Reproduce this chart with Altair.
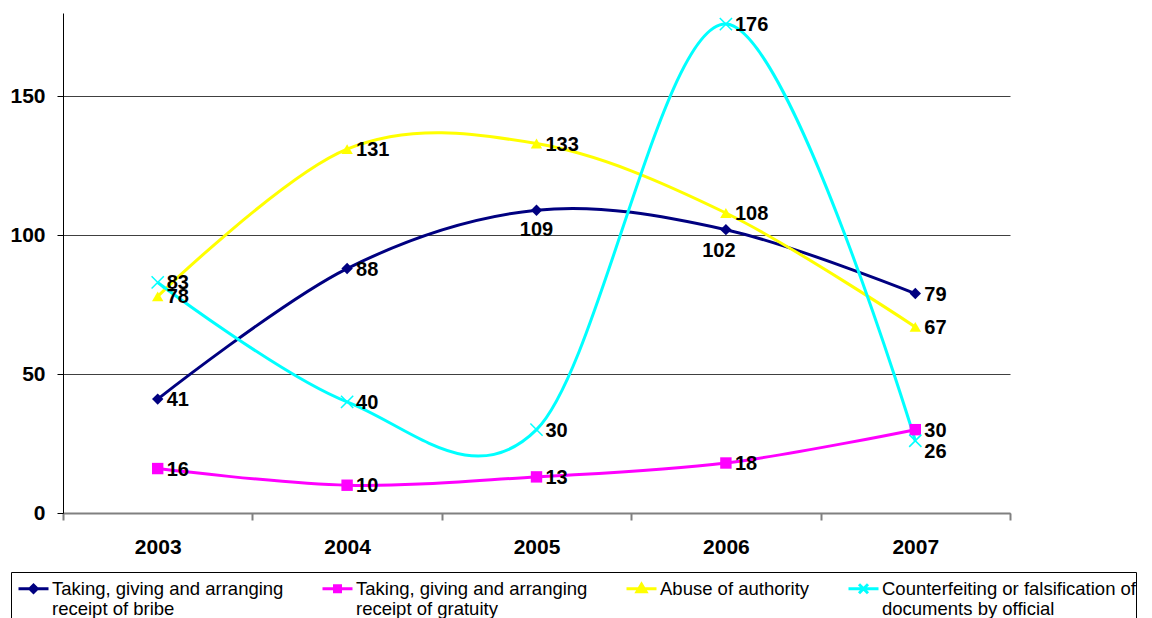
import json
import altair as alt
import pandas as pd

years = ["2003", "2004", "2005", "2006", "2007"]
series = [
    "Taking, giving and arranging receipt of bribe",
    "Taking, giving and arranging receipt of gratuity",
    "Abuse of authority",
    "Counterfeiting or falsification of documents by official",
]
legend_lines = [
    ["Taking, giving and arranging", "receipt of bribe"],
    ["Taking, giving and arranging", "receipt of gratuity"],
    ["Abuse of authority", ""],
    ["Counterfeiting or falsification of", "documents by official"],
]
bribe = [41, 88, 109, 102, 79]
gratuity = [16, 10, 13, 18, 30]
abuse = [78, 131, 133, 108, 67]
counterfeit = [83, 40, 30, 176, 26]
colors = ["#000080", "#FF00FF", "#FFFF00", "#00FFFF"]

rows = []
for name, vals in zip(series, [bribe, gratuity, abuse, counterfeit]):
    for yr, v in zip(years, vals):
        rows.append({"year": yr, "series": name, "value": v})
df = pd.DataFrame(rows)

FONT = "Liberation Sans"

color_scale = alt.Scale(domain=series, range=colors)
x_enc = alt.X(
    "year:N",
    sort=years,
    bandPosition=0.5,
    scale=alt.Scale(type="band", paddingInner=0, paddingOuter=0),
    axis=alt.Axis(
        title=None, labelAngle=0, tickBand="extent", domainColor="#808080",
        domainWidth=2, tickColor="#808080", tickWidth=2, tickSize=7,
        labelFont=FONT, labelFontSize=21, labelFontWeight="bold",
        labelColor="black", labelPadding=16, grid=False,
    ),
)
y_enc = alt.Y(
    "value:Q",
    scale=alt.Scale(domain=[0, 180], nice=False),
    axis=alt.Axis(
        title=None, values=[0, 50, 100, 150], grid=True, gridColor="#404040",
        gridWidth=1, domainColor="black", tickColor="black", tickSize=6,
        labelFont=FONT, labelFontSize=21, labelFontWeight="bold",
        labelColor="black", labelPadding=12,
    ),
)

base = alt.Chart(df)

lines = base.mark_line(interpolate="cardinal", strokeWidth=3).encode(
    x=x_enc, y=y_enc,
    color=alt.Color("series:N", scale=color_scale, legend=None),
    detail="series:N",
)

filled_pts = base.transform_filter(
    alt.FieldOneOfPredicate(field="series", oneOf=series[:3])
).mark_point(filled=True, opacity=1, size=130).encode(
    x=x_enc, y=y_enc,
    color=alt.Color("series:N", scale=color_scale, legend=None),
    shape=alt.Shape("series:N", scale=alt.Scale(domain=series, range=["diamond", "square", "triangle-up", "circle"]), legend=None),
)

x_pts = base.transform_filter(
    alt.FieldEqualPredicate(field="series", equal=series[3])
).mark_point(filled=False, opacity=1, size=150, strokeWidth=1.5,
             shape="M-1,-1L1,1M-1,1L1,-1").encode(
    x=x_enc, y=y_enc,
    color=alt.Color("series:N", scale=color_scale, legend=None),
)

below_expr = (
    f"(datum.series == {json.dumps(series[0])} && (datum.year == '2005' || datum.year == '2006'))"
)
shift_expr = f"(datum.series == {json.dumps(series[3])} && datum.year == '2007')"

text_props = dict(font=FONT, fontSize=20, fontWeight="bold", color="black")

labels = base.transform_filter(f"!({below_expr}) && !({shift_expr})").mark_text(
    align="left", baseline="middle", dx=9, dy=1, **text_props
).encode(x=x_enc, y=y_enc, text="value:Q")

labels_shift = base.transform_filter(shift_expr).mark_text(
    align="left", baseline="middle", dx=9, dy=11, **text_props
).encode(x=x_enc, y=y_enc, text="value:Q")

labels_109 = base.transform_filter(
    f"datum.series == {json.dumps(series[0])} && datum.year == '2005'"
).mark_text(align="center", baseline="middle", dx=0, dy=20, **text_props).encode(
    x=x_enc, y=y_enc, text="value:Q")

labels_102 = base.transform_filter(
    f"datum.series == {json.dumps(series[0])} && datum.year == '2006'"
).mark_text(align="center", baseline="middle", dx=-7, dy=21, **text_props).encode(
    x=x_enc, y=y_enc, text="value:Q")

# legend symbols: line with marker
legend_shapes = [
    "M-1,0H1M-0.25,0L0,-0.25L0.25,0L0,0.25Z",
    "M-1,0H1M-0.2,-0.2H0.2V0.2H-0.2Z",
    "M-1,0H1M-0.3,0.2L0,-0.3L0.3,0.2Z",
    "M-1,0H1M-0.3,-0.3L0.3,0.3M-0.3,0.3L0.3,-0.3",
]
label_expr = " : ".join(
    f"datum.label == {json.dumps(s)} ? {json.dumps(l)}" for s, l in zip(series, legend_lines)
) + " : datum.label"

leg = alt.Legend(title=None, labelExpr=label_expr)
legend_layer = base.transform_filter("false").mark_point(
    filled=True, opacity=1, strokeWidth=3
).encode(
    x=x_enc, y=y_enc,
    fill=alt.Fill("series:N", scale=alt.Scale(domain=series, range=colors), legend=leg),
    stroke=alt.Stroke("series:N", scale=alt.Scale(domain=series, range=colors), legend=leg),
    shape=alt.Shape("series:N", scale=alt.Scale(domain=series, range=legend_shapes), legend=leg),
)

chart = alt.layer(
    lines, filled_pts, x_pts, labels, labels_shift, labels_109, labels_102, legend_layer
).resolve_scale(
    shape="independent", fill="independent", stroke="independent"
).properties(
    width=947, height=500,
    autosize=alt.AutoSizeParams(type="none"),
    padding={"left": 63, "top": 13, "right": 142, "bottom": 105},
).configure_view(stroke=None).configure_legend(
    orient="none", legendX=-52, legendY=559, direction="horizontal", columns=4,
    columnPadding=31, labelFont=FONT, labelFontSize=18.5, labelColor="black",
    labelLimit=500, labelOffset=2, symbolSize=900, symbolStrokeWidth=3,
    symbolOffset=6, symbolOpacity=1, strokeColor="black", padding=0,
)

chart.save("out.html", embed_options={"renderer": "svg", "actions": False})
